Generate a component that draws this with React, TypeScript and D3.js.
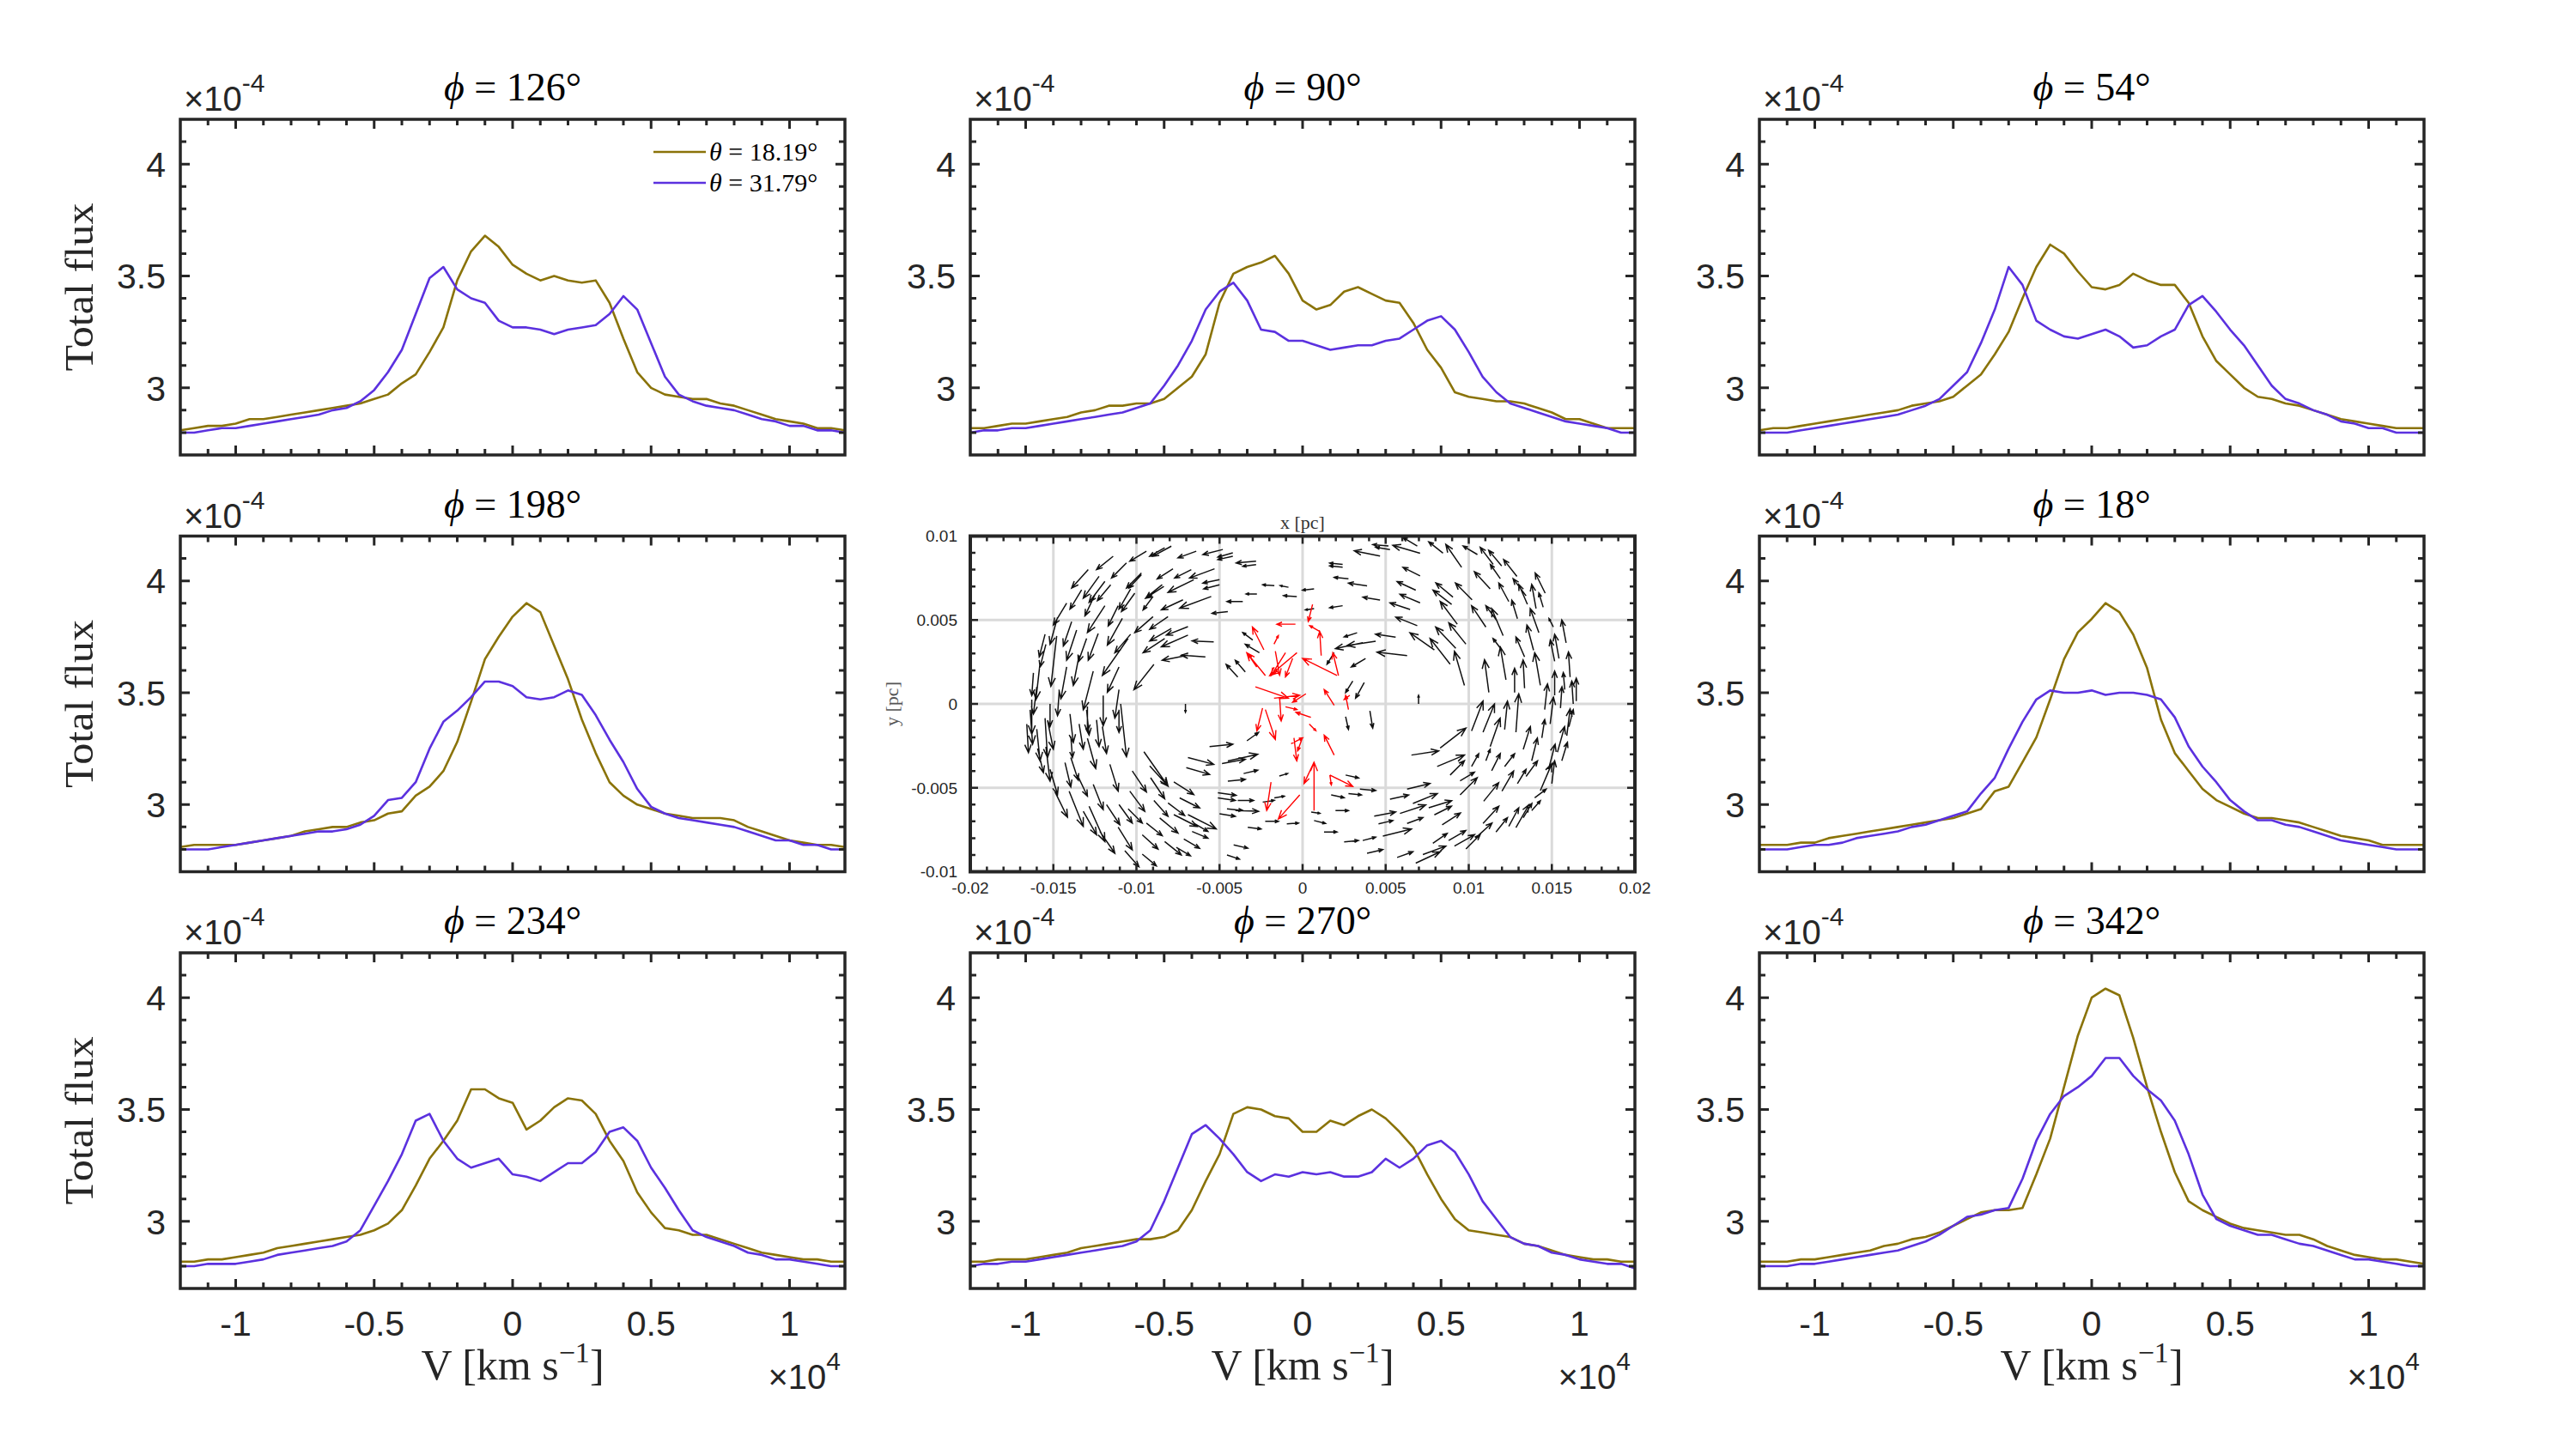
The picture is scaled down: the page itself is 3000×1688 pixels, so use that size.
import * as d3 from "d3";

// Line-of-sight velocity grid, in units of 1e4 km/s
const VELOCITY = [
  -1.2, -1.15, -1.1, -1.05, -1.0, -0.95, -0.9, -0.85, -0.8, -0.75, -0.7, -0.65, -0.6, -0.55, -0.5, -0.45, -0.4,
  -0.35, -0.3, -0.25, -0.2, -0.15, -0.1, -0.05, 0, 0.05, 0.1, 0.15, 0.2, 0.25, 0.3, 0.35, 0.4, 0.45, 0.5,
  0.55, 0.6, 0.65, 0.7, 0.75, 0.8, 0.85, 0.9, 0.95, 1.0, 1.05, 1.1, 1.15, 1.2,
];

// Total flux profiles, units of 1e-4. LOW = theta 18.19 deg, HIGH = theta 31.79 deg
const FLUX_126_LOW = [2.81, 2.82, 2.83, 2.83, 2.84, 2.86, 2.86, 2.87, 2.88, 2.89, 2.9, 2.91, 2.92, 2.93, 2.95, 2.97, 3.02, 3.06, 3.16, 3.27, 3.48, 3.61, 3.68, 3.63, 3.55, 3.51, 3.48, 3.5, 3.48, 3.47, 3.48, 3.38, 3.22, 3.07, 3.0, 2.97, 2.96, 2.95, 2.95, 2.93, 2.92, 2.9, 2.88, 2.86, 2.85, 2.84, 2.82, 2.82, 2.81];
const FLUX_126_HIGH = [2.8, 2.8, 2.81, 2.82, 2.82, 2.83, 2.84, 2.85, 2.86, 2.87, 2.88, 2.9, 2.91, 2.94, 2.99, 3.07, 3.17, 3.33, 3.49, 3.54, 3.44, 3.4, 3.38, 3.3, 3.27, 3.27, 3.26, 3.24, 3.26, 3.27, 3.28, 3.33, 3.41, 3.35, 3.2, 3.05, 2.97, 2.94, 2.92, 2.91, 2.9, 2.88, 2.86, 2.85, 2.83, 2.83, 2.81, 2.81, 2.8];

const FLUX_90_LOW = [2.82, 2.82, 2.83, 2.84, 2.84, 2.85, 2.86, 2.87, 2.89, 2.9, 2.92, 2.92, 2.93, 2.93, 2.95, 3.0, 3.05, 3.15, 3.38, 3.51, 3.54, 3.56, 3.59, 3.51, 3.39, 3.35, 3.37, 3.43, 3.45, 3.42, 3.39, 3.38, 3.29, 3.17, 3.09, 2.98, 2.96, 2.95, 2.94, 2.94, 2.93, 2.91, 2.89, 2.86, 2.86, 2.84, 2.82, 2.82, 2.82];
const FLUX_90_HIGH = [2.8, 2.81, 2.81, 2.82, 2.82, 2.83, 2.84, 2.85, 2.86, 2.87, 2.88, 2.89, 2.91, 2.93, 3.01, 3.1, 3.21, 3.35, 3.43, 3.47, 3.39, 3.26, 3.25, 3.21, 3.21, 3.19, 3.17, 3.18, 3.19, 3.19, 3.21, 3.22, 3.26, 3.3, 3.32, 3.26, 3.16, 3.05, 2.98, 2.93, 2.91, 2.89, 2.87, 2.85, 2.84, 2.83, 2.82, 2.8, 2.8];

const FLUX_54_LOW = [2.81, 2.82, 2.82, 2.83, 2.84, 2.85, 2.86, 2.87, 2.88, 2.89, 2.9, 2.92, 2.93, 2.94, 2.96, 3.01, 3.06, 3.15, 3.25, 3.4, 3.54, 3.64, 3.6, 3.52, 3.45, 3.44, 3.46, 3.51, 3.48, 3.46, 3.46, 3.38, 3.23, 3.12, 3.06, 3.0, 2.96, 2.95, 2.93, 2.92, 2.9, 2.88, 2.86, 2.85, 2.84, 2.83, 2.82, 2.82, 2.82];
const FLUX_54_HIGH = [2.8, 2.8, 2.8, 2.81, 2.82, 2.83, 2.84, 2.85, 2.86, 2.87, 2.88, 2.9, 2.92, 2.95, 3.01, 3.07, 3.2, 3.35, 3.54, 3.46, 3.3, 3.26, 3.23, 3.22, 3.24, 3.26, 3.23, 3.18, 3.19, 3.23, 3.26, 3.37, 3.41, 3.34, 3.26, 3.19, 3.1, 3.01, 2.95, 2.93, 2.9, 2.88, 2.85, 2.84, 2.82, 2.82, 2.8, 2.8, 2.8];

const FLUX_198_LOW = [2.81, 2.82, 2.82, 2.82, 2.82, 2.83, 2.84, 2.85, 2.86, 2.88, 2.89, 2.9, 2.9, 2.92, 2.93, 2.96, 2.97, 3.04, 3.08, 3.15, 3.28, 3.46, 3.65, 3.75, 3.84, 3.9, 3.86, 3.71, 3.56, 3.38, 3.23, 3.1, 3.04, 3.0, 2.98, 2.96, 2.95, 2.94, 2.94, 2.94, 2.93, 2.9, 2.88, 2.86, 2.84, 2.83, 2.82, 2.82, 2.81];
const FLUX_198_HIGH = [2.8, 2.8, 2.8, 2.81, 2.82, 2.83, 2.84, 2.85, 2.86, 2.87, 2.88, 2.88, 2.89, 2.91, 2.95, 3.02, 3.03, 3.1, 3.25, 3.37, 3.42, 3.48, 3.55, 3.55, 3.53, 3.48, 3.47, 3.48, 3.51, 3.49, 3.4, 3.29, 3.19, 3.07, 2.99, 2.96, 2.94, 2.93, 2.92, 2.91, 2.9, 2.88, 2.86, 2.84, 2.84, 2.82, 2.82, 2.8, 2.8];

const FLUX_18_LOW = [2.82, 2.82, 2.82, 2.83, 2.83, 2.85, 2.86, 2.87, 2.88, 2.89, 2.9, 2.91, 2.92, 2.93, 2.94, 2.96, 2.98, 3.06, 3.08, 3.19, 3.3, 3.47, 3.65, 3.77, 3.83, 3.9, 3.86, 3.76, 3.61, 3.38, 3.23, 3.15, 3.07, 3.02, 2.99, 2.96, 2.94, 2.94, 2.93, 2.92, 2.9, 2.88, 2.86, 2.85, 2.84, 2.82, 2.82, 2.82, 2.82];
const FLUX_18_HIGH = [2.8, 2.8, 2.8, 2.81, 2.82, 2.82, 2.83, 2.85, 2.86, 2.87, 2.88, 2.9, 2.91, 2.93, 2.95, 2.97, 3.05, 3.12, 3.25, 3.37, 3.47, 3.51, 3.5, 3.5, 3.51, 3.49, 3.5, 3.5, 3.49, 3.47, 3.39, 3.26, 3.17, 3.1, 3.02, 2.97, 2.93, 2.93, 2.91, 2.9, 2.88, 2.86, 2.84, 2.83, 2.82, 2.81, 2.8, 2.8, 2.8];

const FLUX_234_LOW = [2.82, 2.82, 2.83, 2.83, 2.84, 2.85, 2.86, 2.88, 2.89, 2.9, 2.91, 2.92, 2.93, 2.94, 2.96, 2.99, 3.05, 3.16, 3.28, 3.36, 3.45, 3.59, 3.59, 3.55, 3.53, 3.41, 3.45, 3.51, 3.55, 3.54, 3.48, 3.36, 3.27, 3.13, 3.04, 2.97, 2.96, 2.94, 2.94, 2.92, 2.9, 2.88, 2.86, 2.85, 2.84, 2.83, 2.83, 2.82, 2.82];
const FLUX_234_HIGH = [2.8, 2.8, 2.81, 2.81, 2.81, 2.82, 2.83, 2.85, 2.86, 2.87, 2.88, 2.89, 2.91, 2.96, 3.07, 3.18, 3.3, 3.45, 3.48, 3.36, 3.28, 3.24, 3.26, 3.28, 3.21, 3.2, 3.18, 3.22, 3.26, 3.26, 3.31, 3.4, 3.42, 3.36, 3.24, 3.15, 3.05, 2.96, 2.93, 2.91, 2.89, 2.86, 2.85, 2.83, 2.83, 2.82, 2.81, 2.8, 2.8];

const FLUX_270_LOW = [2.82, 2.82, 2.83, 2.83, 2.83, 2.84, 2.85, 2.86, 2.88, 2.89, 2.9, 2.91, 2.92, 2.92, 2.93, 2.96, 3.05, 3.18, 3.3, 3.48, 3.51, 3.5, 3.47, 3.46, 3.4, 3.4, 3.45, 3.43, 3.47, 3.5, 3.46, 3.4, 3.33, 3.21, 3.1, 3.01, 2.96, 2.95, 2.94, 2.93, 2.9, 2.89, 2.87, 2.85, 2.84, 2.83, 2.83, 2.82, 2.82];
const FLUX_270_HIGH = [2.8, 2.81, 2.81, 2.82, 2.82, 2.83, 2.84, 2.85, 2.86, 2.87, 2.88, 2.89, 2.91, 2.96, 3.09, 3.24, 3.39, 3.43, 3.37, 3.3, 3.22, 3.18, 3.21, 3.2, 3.22, 3.21, 3.22, 3.2, 3.2, 3.22, 3.28, 3.24, 3.28, 3.34, 3.36, 3.31, 3.21, 3.09, 3.01, 2.93, 2.9, 2.89, 2.86, 2.85, 2.83, 2.82, 2.81, 2.81, 2.79];

const FLUX_342_LOW = [2.82, 2.82, 2.82, 2.83, 2.83, 2.84, 2.85, 2.86, 2.87, 2.89, 2.9, 2.92, 2.93, 2.95, 2.98, 3.01, 3.04, 3.05, 3.05, 3.06, 3.21, 3.37, 3.6, 3.83, 4.0, 4.04, 4.01, 3.82, 3.6, 3.4, 3.22, 3.09, 3.05, 3.02, 2.99, 2.97, 2.96, 2.95, 2.94, 2.94, 2.92, 2.89, 2.87, 2.85, 2.84, 2.83, 2.83, 2.82, 2.81];
const FLUX_342_HIGH = [2.8, 2.8, 2.8, 2.81, 2.81, 2.82, 2.83, 2.84, 2.85, 2.86, 2.87, 2.89, 2.91, 2.94, 2.98, 3.02, 3.03, 3.05, 3.06, 3.19, 3.36, 3.48, 3.56, 3.6, 3.65, 3.73, 3.73, 3.65, 3.59, 3.54, 3.45, 3.3, 3.12, 3.01, 2.98, 2.96, 2.94, 2.94, 2.92, 2.9, 2.89, 2.87, 2.85, 2.83, 2.83, 2.82, 2.81, 2.8, 2.8];

const THETA_LABELS = ["18.19", "31.79"];

const X_TICKS = [-1, -0.5, 0, 0.5, 1];
const X_TICK_LABELS = ["-1", "-0.5", "0", "0.5", "1"];
const Y_TICKS = [3, 3.5, 4];
const Y_TICK_LABELS = ["3", "3.5", "4"];

// Velocity field of the disc, in milliparsec: [x, y, dx, dy]
const FIELD_OUTER = [
  [-7.9, 9.4, -1.1, -0.6], [-8.3, 9.3, -0.9, -0.5], [-4.8, 9.2, -1.2, -0.3], [-4.2, 9.0, -0.9, -0.25],
  [-4.2, 8.8, -0.9, -0.2], [-2.8, 8.5, -1.2, -0.1], [-2.8, 8.3, -0.8, -0.1], [-10.6, 8.4, -0.9, -0.9],
  [-9.7, 7.8, -0.9, -0.9], [-9.7, 7.7, -0.75, -0.8], [-7.8, 8.05, -0.95, -0.6], [-6.7, 8.0, -1.0, -0.5],
  [-5.3, 8.05, -1.5, -0.55], [-5.0, 7.4, -1.0, -0.2], [-5.0, 7.1, -0.95, -0.25], [-6.55, 7.4, -1.55, -0.75],
  [-8.45, 7.1, -0.95, -0.75], [-8.35, 7.0, -1.1, -0.7], [-5.5, 6.4, -1.9, -0.7], [-4.5, 5.5, -0.95, -0.1],
  [-9.0, 6.4, -0.6, -0.8], [-3.6, 6.1, -0.95, 0], [-2.75, 6.55, -0.65, 0], [-1.7, 7.05, -0.7, 0.05],
  [-0.85, 6.95, -0.5, 0.1], [-0.35, 6.4, -0.8, 0.05], [-12.25, 7.6, -0.95, -1.3], [-11.9, 7.3, -0.95, -1.25],
  [-11.55, 7.1, -0.8, -0.95], [-13.3, 6.8, -0.7, -1.15], [-12.5, 6.5, -0.6, -1.25], [-10.35, 6.85, -0.7, -1.2],
  [-10.1, 6.6, -0.8, -1.1], [-11.1, 5.85, -0.6, -1.2], [-10.85, 5.1, -0.9, -1.6], [-11.9, 5.85, -1.05, -1.6],
  [-9.0, 5.2, -1.1, -0.95], [-8.1, 5.2, -1.1, -0.75], [-6.9, 4.6, -1.3, -0.5], [-7.9, 4.5, -1.3, -0.75],
  [-6.9, 4.1, -1.6, -0.7], [-8.3, 3.9, -1.3, -0.85], [-5.35, 3.7, -1.3, 0.05], [-5.85, 2.8, -1.45, 0.1],
  [-6.9, 2.9, -1.55, -0.3], [-8.95, 2.35, -1.2, -1.5], [-10.35, 4.15, -0.95, -1.1], [-10.5, 3.9, -1.55, -2.2],
  [-11.05, 2.2, -0.7, -1.5], [-14.75, 5.15, -0.45, -1.6], [-13.9, 4.9, -0.5, -1.45], [-13.6, 4.4, -0.6, -1.8],
  [-15.5, 4.15, -0.35, -1.35], [-15.45, 3.55, -0.35, -1.35], [-14.8, 4.05, -0.35, -3.0], [-13.0, 3.9, -0.5, -1.4],
  [-13.45, 2.9, -0.35, -1.8], [-12.6, 1.95, -0.6, -2.3], [-15.8, 2.45, -0.25, -2.2], [-16.2, 1.85, -0.1, -1.35],
  [-11.05, 0.85, -0.25, -1.7], [-16.3, 0.25, 0, -2.05], [-16.4, -0.35, 0.15, -2.05], [-15.2, 0, 0, -1.35],
  [-15.5, -0.85, 0.15, -2.35], [-15.35, -1.0, 0.35, -1.7], [-14.65, 0.75, -0.1, -1.45], [-12.95, -0.15, 0, -1.5],
  [-13.0, -0.35, 0.15, -1.5], [-13.45, -1.2, 0.25, -1.5], [-12.4, -0.95, 0.15, -1.6], [-12.05, -1.35, 0.25, -1.6],
  [-13.95, -1.95, 0.1, -1.25], [-12.95, -2.05, 0.5, -1.8], [-10.95, 0, 0.35, -3.15], [-11.05, -0.35, 0, -1.35],
  [-15.95, -2.65, 0.35, -1.45], [-15.45, -2.55, 0.25, -2.05], [-14.3, -3.5, 0.35, -1.45], [-13.95, -3.2, 0.45, -1.35],
  [-13.55, -4.25, 0.6, -1.25], [-15.2, -3.9, 0.45, -1.5], [-14.9, -5.25, 0.75, -1.5], [-14.05, -5.2, 0.85, -2.1],
  [-12.85, -6.1, 0.95, -2.1], [-11.8, -6.0, 0.8, -1.2], [-11.05, -6.0, 0.8, -1.1], [-11.1, -7.35, 0.85, -1.35],
  [-10.5, -6.25, 0.85, -0.85], [-10.7, -8.75, 0.85, -0.95], [-9.65, -7.8, 0.95, -0.85], [-9.4, -7.1, 0.95, -0.75],
  [-9.65, -8.95, 0.85, -0.7], [-9.55, -2.85, 1.45, -2.05], [-9.2, -3.7, 1.1, -1.2], [-10.25, -4.0, 0.85, -1.25],
  [-9.15, -4.4, 0.85, -1.25], [-7.75, -4.65, 1.2, -0.75], [-7.4, -5.6, 1.2, -0.6], [-8.1, -5.9, 1.0, -0.75],
  [-8.95, -5.75, 0.85, -0.95], [-7.75, -6.6, 1.4, -0.7], [-6.9, -6.6, 1.7, -0.85], [-6.55, -7.1, 0.85, -0.5],
  [-6.65, -7.6, 0.95, -0.4], [-7.15, -8.05, 0.95, -0.55], [-7.6, -8.55, 0.85, -0.5], [-4.15, -8.4, 0.85, -0.2],
  [-4.55, -9.0, 0.75, -0.25], [-6.9, -3.2, 1.55, -0.4], [-5.6, -2.55, 1.4, 0.15], [-7.0, -3.8, 1.4, -0.4],
  [-4.85, -3.55, 1.4, 0.25], [-4.5, -3.4, 1.8, 0.4], [-3.55, -4.15, 0.85, 0.2], [-4.5, -4.6, 1.05, 0.1],
  [-5.1, -5.3, 1.1, -0.15], [-5.1, -5.6, 1.05, -0.15], [-3.9, -5.75, 0.95, 0], [-4.55, -6.25, 0.95, -0.1],
  [-4.05, -6.35, 1.4, -0.05], [-5.0, -6.55, 0.95, -0.15], [-3.3, -7.35, 0.8, -0.1], [-2.25, -7.0, 0.8, 0],
  [-0.95, -7.15, 0.7, 0.05], [-2.4, -5.85, 0.7, 0.1], [-1.7, -5.6, 0.6, 0.1], [-1.4, -4.3, 0.5, 0.15],
  [-3.35, -2.2, 0.7, 0.5], [-3.9, 1.6, -0.7, 0.75], [-3.45, 1.9, -0.6, 0.7], [-2.6, 3.05, -0.85, 0.5],
  [-3.0, 3.8, -0.6, 0.45], [-7.05, 0, 0, -0.5],
  [-16.0, 1.0, -0.2, -1.6], [-16.6, -1.2, 0.1, -1.7], [-16.0, -1.5, 0.2, -1.9], [-14.2, 2.2, -0.35, -1.9],
  [-14.0, -0.6, 0.2, -1.7], [-12.3, 4.2, -0.6, -1.6], [-12.0, 0.5, 0, -1.8], [-11.6, -3.6, 0.5, -1.6],
  [-12.6, -4.8, 0.6, -1.5], [-13.2, -6.4, 0.8, -1.4], [-12.2, -7.6, 0.9, -1.3], [-10.4, -5.2, 0.9, -1.2],
  [-8.6, -6.8, 1.1, -0.9], [-8.3, -8.2, 1.0, -0.8], [-14.2, 6.0, -0.8, -1.3], [-12.9, 8.0, -1.0, -1.1],
  [-11.4, 8.8, -1.0, -0.8], [-9.4, 9.1, -1.0, -0.6], [-6.4, 9.1, -1.1, -0.4], [-7.2, 6.2, -1.3, -0.6],
  [5.17, 9.41, -0.95, 0.08], [5.26, 9.19, -0.86, 0.14], [4.66, 8.81, -1.55, 0.31], [7.07, 8.98, -1.64, 0.47],
  [6.9, 9.41, -0.86, 0.51], [8.45, 8.98, -0.86, 0.68], [9.57, 8.14, -0.95, 1.36], [10.52, 8.9, -0.86, 0.51],
  [11.47, 8.31, -0.78, 1.02], [11.98, 8.22, -0.78, 0.93], [2.41, 8.14, -0.78, 0.08], [2.41, 8.31, -0.78, 0.08],
  [2.76, 7.46, -0.86, 0.08], [3.88, 7.03, -1.12, 0.17], [4.66, 6.19, -1.03, 0.17], [7.07, 7.63, -1.03, 0.51],
  [6.81, 6.78, -1.12, 0.51], [7.07, 6.02, -1.21, 0.51], [6.47, 5.63, -1.21, 0.39], [6.9, 4.66, -1.29, 0.51],
  [9.05, 6.36, -1.03, 0.85], [8.97, 5.93, -1.12, 0.85], [9.31, 4.75, -1.03, 1.36], [9.83, 3.56, -1.03, 1.27],
  [9.22, 3.31, -1.21, 1.27], [7.93, 3.22, -1.47, 1.02], [8.88, 2.37, -1.21, 1.53], [9.74, 1.1, -0.6, 2.03],
  [11.29, 6.86, -0.95, 1.02], [11.9, 7.46, -0.6, 0.85], [12.41, 6.1, -0.6, 1.1], [11.03, 4.58, -0.86, 1.27],
  [11.72, 4.92, -0.69, 0.93], [12.07, 4.07, -0.69, 1.61], [12.93, 5.08, -0.34, 1.1], [13.45, 6.44, -0.78, 1.02],
  [13.53, 5.93, -0.52, 1.19], [14.05, 5.68, -0.26, 1.44], [14.48, 5.76, -0.26, 0.85], [14.22, 4.24, -0.52, 1.44],
  [13.36, 2.8, -0.52, 1.19], [11.98, 3.22, -0.52, 0.68], [12.24, 1.44, -0.34, 1.95], [11.21, 0.68, -0.26, 1.95],
  [12.76, 0.68, 0, 1.44], [13.36, 0.93, -0.09, 1.69], [14.31, 1.1, -0.34, 1.95], [15.17, 2.54, -0.26, 1.27],
  [15.43, 2.71, -0.26, 1.44], [15.86, 3.64, -0.26, 1.36], [15.09, 4.58, -0.26, 0.51], [14.57, -0.34, 0.17, 1.53],
  [15.52, -0.25, 0.09, 1.27], [16.47, 0.17, 0, 1.36], [16.29, 0, -0.09, 1.36], [15.78, 0.85, -0.09, 1.02],
  [15.17, 0.51, 0, 1.44], [10.17, -1.61, 0.69, 1.78], [10.86, -1.69, 0.69, 1.69], [11.29, -2.54, 0.6, 1.69],
  [12.16, -1.53, 0.17, 1.69], [12.84, -1.69, 0.17, 2.29], [13.28, -2.71, 0.43, 1.36], [13.79, -3.39, 0.34, 1.36],
  [14.4, -2.03, 0.17, 1.1], [15.34, -2.88, 0.43, 1.53], [16.03, -1.36, 0.26, 1.02], [15.6, -3.39, 0.34, 1.1],
  [15.0, -4.75, 0.17, 1.36], [13.45, -4.32, 0.69, 0.93], [14.31, -5.17, 0.69, 1.61], [13.97, -5.59, 0.69, 0.51],
  [9.48, -5.42, 1.03, 1.02], [8.1, -3.73, 1.64, 0.68], [8.28, -2.63, 1.55, 1.19], [6.55, -3.05, 1.64, 0.25],
  [8.88, -4.24, 0.86, 0.85], [10.17, -3.73, 0.43, 0.76], [11.03, -3.39, 0.26, 0.68], [9.48, -4.58, 0.86, 0.51],
  [6.29, -5.08, 1.38, 0.34], [5.26, -5.68, 1.12, 0.25], [6.64, -5.93, 1.47, 0.59], [7.59, -6.19, 1.38, 0.42],
  [7.93, -6.61, 1.03, 0.51], [5.86, -6.53, 1.55, 0.51], [4.31, -6.69, 1.29, 0.25], [4.57, -7.15, 0.86, 0.2],
  [6.29, -7.12, 0.95, 0.34], [4.83, -7.88, 1.72, 0.42], [2.5, -8.22, 0.86, 0.08], [3.62, -8.14, 0.78, 0.2],
  [3.88, -8.9, 0.95, 0.22], [5.69, -9.15, 0.95, 0.34], [6.81, -9.49, 1.47, 0.68], [7.24, -8.98, 1.38, 0.51],
  [7.84, -8.31, 0.86, 0.59], [8.79, -8.14, 1.03, 0.59], [9.14, -8.47, 1.21, 0.68], [9.83, -8.64, 0.86, 0.85],
  [10.86, -7.12, 0.95, 1.02], [11.64, -7.63, 0.69, 0.85], [12.41, -7.29, 0.6, 1.1], [12.84, -7.37, 0.78, 1.36],
  [13.28, -6.78, 0.52, 0.85], [13.79, -6.36, 0.52, 0.59], [12.93, -4.75, 0.52, 0.85], [12.16, -3.73, 0.6, 0.76],
  [11.38, -3.98, 0.52, 1.02], [3.45, -5.08, 0.95, -0.08], [2.76, -5.34, 0.78, -0.08], [1.72, -5.42, 0.78, -0.17],
  [1.98, -6.36, 0.78, 0], [0.69, -6.95, 0.69, -0.17], [1.29, -7.63, 0.78, 0], [0.52, -6.44, 0.52, -0.08],
  [2.59, -4.24, 0.78, -0.17], [0.69, 6.86, -0.69, -0.08], [0.69, 5.68, -0.52, -0.08], [2.41, 5.85, -0.78, -0.12],
  [3.28, 4.24, -0.78, -0.25], [4.4, 3.73, -1.72, -0.25], [3.62, 3.64, -1.64, -0.34], [5.6, 3.98, -1.21, 0.17],
  [6.29, 2.88, -1.81, 0.2], [3.79, 2.71, -0.86, -0.51], [3.02, 1.36, -0.43, -0.68], [3.71, 1.27, -0.52, -0.93],
  [1.9, 3.05, -0.43, -0.68], [4.05, -0.42, 0.17, -1.02], [2.59, -0.76, 0.17, -0.76], [6.98, 0, 0, 0.51],
  [16.1, 1.6, -0.1, 1.5], [15.9, -1.9, 0.2, 1.6], [14.8, -3.9, 0.4, 1.5], [13.9, 3.2, -0.4, 1.5],
  [14.6, 6.6, -0.6, 1.2], [12.9, 7.6, -0.8, 1.0], [10.2, 6.2, -1.0, 1.0], [10.9, -5.8, 0.9, 1.1],
  [12.0, -5.2, 0.7, 1.2], [10.4, -8.0, 1.0, 0.9], [8.4, -7.2, 1.1, 0.7], [14.9, -1.2, 0.2, 1.6],
];

const FIELD_INNER = [
  [1.03, 4.32, -0.6, 0.34], [1.12, 2.88, -0.09, 1.44], [0.6, 5.93, -0.26, -1.02], [2.07, 1.69, -2.07, 1.02],
  [2.16, 1.69, -0.34, 1.36], [1.9, -0.08, -0.6, 0.93], [2.76, -0.34, -0.17, 0.85], [2.84, 0.51, -0.34, -0.25],
  [1.9, -3.05, -0.6, 1.19], [0.69, -6.36, 0, 2.88], [0.69, -3.47, -0.6, -1.27], [1.64, -4.24, 1.38, -0.68],
  [1.64, -4.24, 0.09, -0.59], [-2.33, 3.22, -0.69, 1.36], [-0.34, 3.05, -1.64, -1.36], [-1.64, 3.14, 0.26, -1.44],
  [-0.43, 4.75, -1.12, 0], [-2.24, 1.69, -1.12, 1.36], [-2.76, 2.2, -0.52, 0.76], [-1.03, 3.05, -0.86, -1.36],
  [-1.72, 3.56, 0.26, 0.51], [-2.84, 1.02, 1.98, -0.68], [-1.72, 0.34, 1.55, 0.17], [-2.41, -0.25, -0.34, -1.36],
  [-2.24, -0.34, 0.6, -1.78], [-1.38, 0.34, 0.09, -1.36], [-0.52, -2.03, 0.17, -1.36], [-0.69, -2.37, 0.69, 0.34],
  [-1.9, -4.66, -0.26, -1.69], [-0.17, -5.42, -1.29, -1.44], [-1.03, -0.17, 0.69, -0.17], [-0.6, 2.71, -0.43, -1.1],
  [0.0, -2.0, -0.3, -0.8], [0.4, -1.2, 0.4, -0.4], [0.2, 0.6, -0.8, -0.5], [0.5, -0.8, -0.9, 0.3],
];

const PC_X_TICKS = [-0.02, -0.015, -0.01, -0.005, 0, 0.005, 0.01, 0.015, 0.02];
const PC_X_LABELS = ["-0.02", "-0.015", "-0.01", "-0.005", "0", "0.005", "0.01", "0.015", "0.02"];
const PC_Y_TICKS = [-0.01, -0.005, 0, 0.005, 0.01];
const PC_Y_LABELS = ["-0.01", "-0.005", "0", "0.005", "0.01"];

const PANELS = [
  { phi: 126, col: 0, row: 0, low: FLUX_126_LOW, high: FLUX_126_HIGH },
  { phi: 90, col: 1, row: 0, low: FLUX_90_LOW, high: FLUX_90_HIGH },
  { phi: 54, col: 2, row: 0, low: FLUX_54_LOW, high: FLUX_54_HIGH },
  { phi: 198, col: 0, row: 1, low: FLUX_198_LOW, high: FLUX_198_HIGH },
  { phi: 18, col: 2, row: 1, low: FLUX_18_LOW, high: FLUX_18_HIGH },
  { phi: 234, col: 0, row: 2, low: FLUX_234_LOW, high: FLUX_234_HIGH },
  { phi: 270, col: 1, row: 2, low: FLUX_270_LOW, high: FLUX_270_HIGH },
  { phi: 342, col: 2, row: 2, low: FLUX_342_LOW, high: FLUX_342_HIGH },
];

const WIDTH = 3000;
const HEIGHT = 1688;
const COL_LEFT = [210, 1130, 2049];
const ROW_TOP = [139, 624.5, 1110];
const PW = 774;
const PH = 391;

const INK = "#262626";
const LOW_COLOR = "#8a7309";
const HIGH_COLOR = "#5b31df";
const SANS = "'Liberation Sans', Arial, Helvetica, sans-serif";
const SERIF = "'Liberation Serif', 'Times New Roman', 'DejaVu Serif', serif";

const near = (a: number, list: number[]) => list.some((m) => Math.abs(m - a) < 1e-9);

function FluxPanel({ p }: { p: (typeof PANELS)[number] }) {
  const left = COL_LEFT[p.col];
  const top = ROW_TOP[p.row];
  const right = left + PW;
  const bottom = top + PH;
  const cx = (left + right) / 2;

  const x = d3.scaleLinear().domain([-1.2, 1.2]).range([left, right]);
  const y = d3.scaleLinear().domain([2.7, 4.2]).range([bottom, top]);
  const line = d3
    .line<number>()
    .x((_, i) => x(VELOCITY[i]))
    .y((d) => y(d));

  // inward ticks on all four sides; minor every 0.1
  let ticks = "";
  d3.range(-11, 12).forEach((i) => {
    const v = i / 10;
    const len = near(v, X_TICKS) ? 11 : 7;
    ticks += `M${x(v)},${bottom}v${-len}M${x(v)},${top}v${len}`;
  });
  d3.range(28, 42).forEach((i) => {
    const v = i / 10;
    const len = near(v, Y_TICKS) ? 11 : 7;
    ticks += `M${left},${y(v)}h${len}M${right},${y(v)}h${-len}`;
  });

  const isBottom = p.row === 2;

  return (
    <g>
      <path d={line(p.low) ?? ""} fill="none" stroke={LOW_COLOR} strokeWidth={2.6} strokeLinejoin="round" />
      <path d={line(p.high) ?? ""} fill="none" stroke={HIGH_COLOR} strokeWidth={2.6} strokeLinejoin="round" />
      <path d={ticks} stroke={INK} strokeWidth={3} fill="none" />
      <rect x={left} y={top} width={PW} height={PH} fill="none" stroke={INK} strokeWidth={3.5} />

      {Y_TICKS.map((t, i) => (
        <text key={t} x={left - 17} y={y(t)} dy="0.36em" textAnchor="end" fontSize={41} fontFamily={SANS} fill={INK}>
          {Y_TICK_LABELS[i]}
        </text>
      ))}

      <text x={left + 4} y={top - 10} fontSize={40} fontFamily={SANS} fill={INK}>
        ×10
        <tspan dy={-22} fontSize={30}>-4</tspan>
      </text>

      <text x={cx} y={top - 22} textAnchor="middle" fontSize={46} fontFamily={SERIF} fill="#000">
        <tspan fontStyle="italic">ϕ</tspan> = {p.phi}°
      </text>

      {p.col === 0 && (
        <text
          transform={`translate(108,${(top + bottom) / 2}) rotate(-90)`}
          textAnchor="middle"
          fontSize={46}
          fontFamily={SERIF}
          fill={INK}
          textLength={196}
          lengthAdjust="spacingAndGlyphs"
        >
          Total flux
        </text>
      )}

      {isBottom && (
        <g>
          {X_TICKS.map((t, i) => (
            <text key={t} x={x(t)} y={bottom + 55} textAnchor="middle" fontSize={41} fontFamily={SANS} fill={INK}>
              {X_TICK_LABELS[i]}
            </text>
          ))}
          <text x={cx} y={bottom + 106} textAnchor="middle" fontSize={50} fontFamily={SERIF} fill={INK}>
            V [km s
            <tspan dy={-20} fontSize={34}>−1</tspan>
            <tspan dy={20}>]</tspan>
          </text>
          <text x={right - 5} y={bottom + 117} textAnchor="end" fontSize={40} fontFamily={SANS} fill={INK}>
            ×10
            <tspan dy={-22} fontSize={30}>4</tspan>
          </text>
        </g>
      )}

      {p.phi === 126 && (
        <g>
          {[p.low, p.high].map((_, i) => {
            const ly = top + 38 + i * 36;
            return (
              <g key={i}>
                <line x1={left + 551} x2={left + 612} y1={ly} y2={ly} stroke={i === 0 ? LOW_COLOR : HIGH_COLOR} strokeWidth={2.6} />
                <text x={left + 616} y={ly + 10} fontSize={30} fontFamily={SERIF} fill="#000">
                  <tspan fontStyle="italic">θ</tspan> = {THETA_LABELS[i]}°
                </text>
              </g>
            );
          })}
        </g>
      )}
    </g>
  );
}

function arrowPath(x1: number, y1: number, x2: number, y2: number) {
  const dx = x2 - x1;
  const dy = y2 - y1;
  const len = Math.hypot(dx, dy);
  if (len < 1) return `M${x1},${y1}L${x2},${y2}`;
  const h = Math.min(len * 0.3, 11);
  const a = Math.atan2(dy, dx);
  const s = 0.38;
  const b1x = x2 - h * Math.cos(a - s);
  const b1y = y2 - h * Math.sin(a - s);
  const b2x = x2 - h * Math.cos(a + s);
  const b2y = y2 - h * Math.sin(a + s);
  return `M${x1},${y1}L${x2},${y2}M${b1x},${b1y}L${x2},${y2}L${b2x},${b2y}`;
}

function FieldPanel() {
  const left = COL_LEFT[1];
  const top = ROW_TOP[1];
  const right = left + PW;
  const bottom = top + PH;
  const MPC = 1e-3;

  const x = d3.scaleLinear().domain([-0.02, 0.02]).range([left, right]);
  const y = d3.scaleLinear().domain([-0.01, 0.01]).range([bottom, top]);

  const arrows = (rows: number[][]) =>
    rows
      .map(([ax, ay, u, v]) => arrowPath(x(ax * MPC), y(ay * MPC), x((ax + u) * MPC), y((ay + v) * MPC)))
      .join("");

  let ticks = "";
  d3.range(-19, 20).forEach((i) => {
    const v = i * MPC;
    const len = near(v, PC_X_TICKS) ? 9 : 6;
    ticks += `M${x(v)},${bottom}v${-len}M${x(v)},${top}v${len}`;
  });
  d3.range(-9, 10).forEach((i) => {
    const v = i * MPC;
    const len = near(v, PC_Y_TICKS) ? 9 : 6;
    ticks += `M${left},${y(v)}h${len}M${right},${y(v)}h${-len}`;
  });

  return (
    <g>
      {PC_X_TICKS.slice(1, -1).map((t) => (
        <line key={`gx${t}`} x1={x(t)} x2={x(t)} y1={top} y2={bottom} stroke="#dadada" strokeWidth={3} />
      ))}
      {PC_Y_TICKS.slice(1, -1).map((t) => (
        <line key={`gy${t}`} x1={left} x2={right} y1={y(t)} y2={y(t)} stroke="#dadada" strokeWidth={3} />
      ))}
      <path d={arrows(FIELD_OUTER)} fill="none" stroke="#111" strokeWidth={1.5} strokeLinejoin="miter" />
      <path d={arrows(FIELD_INNER)} fill="none" stroke="#ff0000" strokeWidth={1.4} />
      <path d={ticks} stroke={INK} strokeWidth={2.5} fill="none" />
      <rect x={left} y={top} width={PW} height={PH} fill="none" stroke={INK} strokeWidth={4} />

      {PC_X_TICKS.map((t, i) => (
        <text key={`lx${t}`} x={x(t)} y={bottom + 25} textAnchor="middle" fontSize={19} fontFamily={SANS} fill={INK}>
          {PC_X_LABELS[i]}
        </text>
      ))}
      {PC_Y_TICKS.map((t, i) => (
        <text key={`ly${t}`} x={left - 15} y={y(t)} dy="0.36em" textAnchor="end" fontSize={19} fontFamily={SANS} fill={INK}>
          {PC_Y_LABELS[i]}
        </text>
      ))}
      <text x={(left + right) / 2} y={top - 9} textAnchor="middle" fontSize={22} fontFamily={SERIF} fill="#333">
        x [pc]
      </text>
      <text
        transform={`translate(${left - 84},${(top + bottom) / 2}) rotate(-90)`}
        textAnchor="middle"
        fontSize={22}
        fontFamily={SERIF}
        fill="#555"
      >
        y [pc]
      </text>
    </g>
  );
}

export default function App() {
  return (
    <svg
      width={WIDTH}
      height={HEIGHT}
      viewBox={`0 0 ${WIDTH} ${HEIGHT}`}
      style={{ position: "absolute", left: 0, top: 0, display: "block", background: "#fff" }}
    >
      <rect width={WIDTH} height={HEIGHT} fill="#fff" />
      {PANELS.map((p) => (
        <FluxPanel key={p.phi} p={p} />
      ))}
      <FieldPanel />
    </svg>
  );
}
